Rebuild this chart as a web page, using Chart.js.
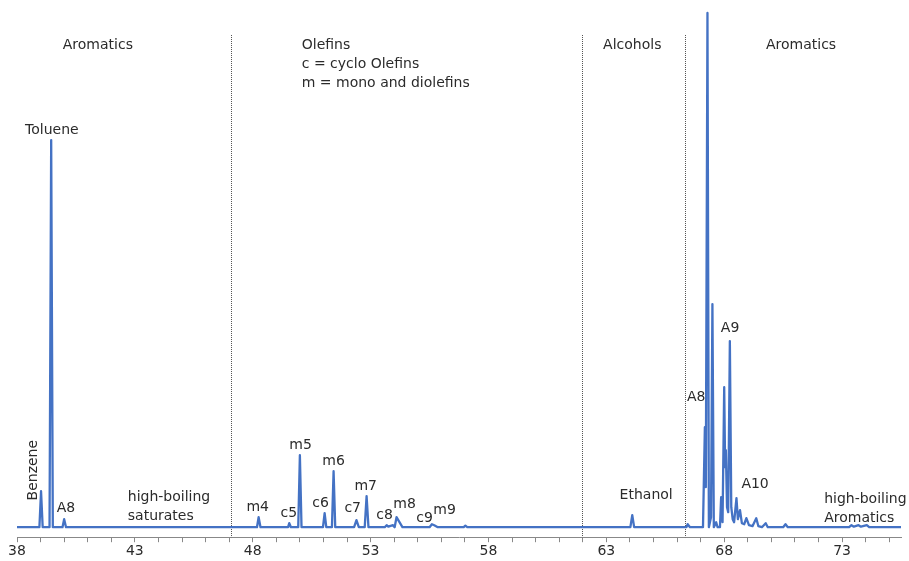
<!DOCTYPE html>
<html>
<head>
<meta charset="utf-8">
<script src="https://cdn.jsdelivr.net/npm/chart.js@4.4.0/dist/chart.umd.min.js"></script>
<style>
  html, body { margin: 0; padding: 0; background: #fff; }
</style>
</head>
<body>
<canvas id="grafica" width="909" height="561"></canvas>
<script>
// ── Datos del cromatograma (tiempo en min, señal en unidades arbitrarias) ──
const retentionTime = [
  38.0, 38.95, 39.02, 39.09, 39.38, 39.45, 39.52, 39.93, 40.0, 40.08,
  48.18, 48.25, 48.33, 49.5, 49.55, 49.62, 49.93, 50.0, 50.07,
  50.98, 51.05, 51.12, 51.36, 51.43, 51.5, 52.3, 52.4, 52.5,
  52.75, 52.83, 52.91, 53.6, 53.68, 53.75, 53.95, 54.02, 54.1, 54.2, 54.35,
  55.5, 55.6, 55.7, 55.85, 56.95, 57.02, 57.1,
  64.02, 64.1, 64.18, 66.4, 66.45, 66.55,
  67.1, 67.18, 67.22, 67.29, 67.35, 67.44, 67.5, 67.56, 67.66, 67.72,
  67.82, 67.87, 67.93, 68.0, 68.04, 68.07, 68.12, 68.17, 68.24, 68.3,
  68.36, 68.42, 68.52, 68.58, 68.67, 68.75, 68.85, 68.94, 69.05, 69.2,
  69.36, 69.45, 69.6, 69.76, 69.85, 70.5, 70.6, 70.7,
  73.3, 73.4, 73.5, 73.7, 73.8, 74.05, 74.15, 75.5
];
const signal = [
  0, 0, 36, 0, 0, 387, 0, 0, 8, 0,
  0, 10, 0, 0, 4, 0, 0, 72, 0,
  0, 14, 0, 0, 56, 0, 0, 7, 0,
  0, 31, 0, 0, 2, 0.5, 2, 0, 10, 6, 0,
  0, 3, 2, 0, 0, 1.5, 0,
  0, 12, 0, 0, 3, 0,
  0, 100, 40, 514, 0, 10, 223, 0, 5, 0,
  0, 30, 5, 140, 60, 77, 20, 15, 186, 20,
  8, 5, 29, 8, 17, 4, 3, 9, 2, 1,
  9, 1, 0, 4, 0, 0, 3, 0,
  0, 2, 0.5, 2, 0.5, 2, 0, 0
];
const tickValues = [38, 43, 48, 53, 58, 63, 68, 73];
const minorTicks = [38, 39, 40, 41, 42, 43, 44, 45, 46, 47, 48, 49, 50, 51, 52, 53, 54, 55, 56,
  57, 58, 59, 60, 61, 62, 63, 64, 65, 66, 67, 68, 69, 70, 71, 72, 73, 74, 75];
const sectionBreaks = [47.07, 61.98, 66.35];

// ── Textos sobre la gráfica ──
const anotaciones = [
  { t: 'Aromatics', x: 41.43, y: 482 },
  { t: 'Olefins', x: 50.08, y: 482, a: 'left' },
  { t: 'c = cyclo Olefins', x: 50.08, y: 463, a: 'left' },
  { t: 'm = mono and diolefins', x: 50.08, y: 444, a: 'left' },
  { t: 'Alcohols', x: 64.1, y: 482 },
  { t: 'Aromatics', x: 71.26, y: 482 },
  { t: 'Toluene', x: 39.48, y: 397 },
  { t: 'Benzene', x: 38.68, y: 57, rot: true },
  { t: 'A8', x: 40.08, y: 19 },
  { t: 'high-boiling', x: 42.7, y: 30, a: 'left' },
  { t: 'saturates', x: 42.7, y: 11, a: 'left' },
  { t: 'm4', x: 48.21, y: 20 },
  { t: 'c5', x: 49.53, y: 14 },
  { t: 'm5', x: 50.03, y: 82 },
  { t: 'c6', x: 50.88, y: 24 },
  { t: 'm6', x: 51.43, y: 66 },
  { t: 'c7', x: 52.24, y: 19 },
  { t: 'm7', x: 52.79, y: 41 },
  { t: 'c8', x: 53.59, y: 12 },
  { t: 'm8', x: 54.44, y: 23 },
  { t: 'c9', x: 55.29, y: 9 },
  { t: 'm9', x: 56.14, y: 17 },
  { t: 'Ethanol', x: 64.69, y: 32 },
  { t: 'A8', x: 66.81, y: 130 },
  { t: 'A9', x: 68.25, y: 199 },
  { t: 'A10', x: 69.31, y: 43 },
  { t: 'high-boiling', x: 72.24, y: 28, a: 'left' },
  { t: 'Aromatics', x: 72.24, y: 9, a: 'left' }
];

const FUENTE = '14px "DejaVu Sans", Verdana, sans-serif';

// ── Plugin: separadores punteados ──
const separadores = {
  id: 'separadores',
  beforeDatasetsDraw(chart) {
    const { ctx, scales: { x, y }, chartArea } = chart;
    ctx.save();
    ctx.strokeStyle = '#555';
    ctx.lineWidth = 1;
    ctx.setLineDash([1, 1]);
    sectionBreaks.forEach(v => {
      const px = Math.round(x.getPixelForValue(v)) + 0.5;
      ctx.beginPath();
      ctx.moveTo(px, y.getPixelForValue(492));
      ctx.lineTo(px, chartArea.bottom);
      ctx.stroke();
    });
    ctx.restore();
  }
};

// ── Plugin: etiquetas de texto ──
const etiquetas = {
  id: 'etiquetas',
  afterDatasetsDraw(chart) {
    const { ctx, scales: { x, y } } = chart;
    ctx.save();
    ctx.font = FUENTE;
    ctx.fillStyle = '#2b2b2b';
    ctx.textBaseline = 'middle';
    anotaciones.forEach(a => {
      const px = x.getPixelForValue(a.x);
      const py = y.getPixelForValue(a.y);
      ctx.textAlign = a.a || 'center';
      if (a.rot) {
        ctx.save();
        ctx.translate(px, py);
        ctx.rotate(-Math.PI / 2);
        ctx.textAlign = 'center';
        ctx.fillText(a.t, 0, 0);
        ctx.restore();
      } else {
        ctx.fillText(a.t, px, py);
      }
    });
    ctx.restore();
  }
};

function crearGrafica() {
  const canvas = document.getElementById('grafica');
  new Chart(canvas, {
    type: 'line',
    data: {
      datasets: [{
        data: retentionTime.map((t, i) => ({ x: t, y: signal[i] })),
        borderColor: '#4472c4',
        borderWidth: 2.3,
        borderJoinStyle: 'round',
        pointRadius: 0,
        tension: 0,
        fill: false
      }]
    },
    options: {
      responsive: false,
      animation: false,
      devicePixelRatio: 1,
      layout: { padding: { left: 17, right: 8, top: 10, bottom: 0 } },
      plugins: { legend: { display: false }, tooltip: { enabled: false } },
      scales: {
        x: {
          type: 'linear',
          min: 38,
          max: 75.5,
          afterBuildTicks: scale => { scale.ticks = minorTicks.map(v => ({ value: v })); },
          ticks: {
            autoSkip: false,
            maxRotation: 0,
            padding: 1,
            color: '#2b2b2b',
            font: { family: '"DejaVu Sans", Verdana, sans-serif', size: 14 },
            callback: v => tickValues.includes(v) ? String(v) : ''
          },
          grid: { drawOnChartArea: false, drawTicks: true, tickLength: 5, color: '#888' },
          border: { display: true, color: '#888', width: 1 }
        },
        y: { display: false, min: -10, max: 517 }
      }
    },
    plugins: [separadores, etiquetas]
  });
}
crearGrafica();
</script>
</body>
</html>
